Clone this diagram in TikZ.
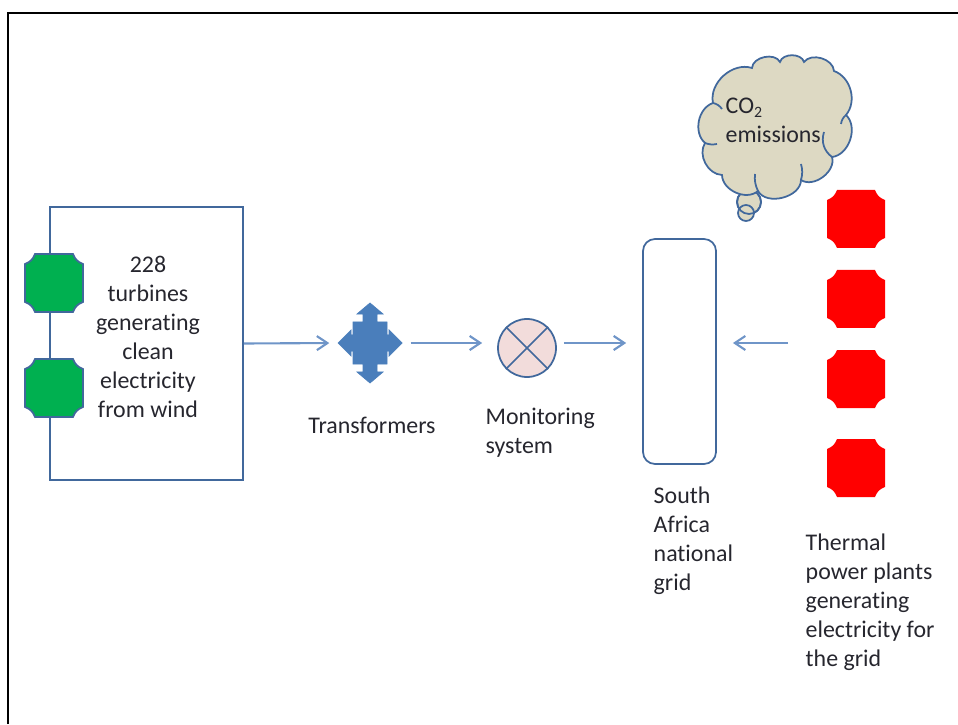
\documentclass[tikz,border=0pt]{standalone}
\usepackage{fontspec}
\setmainfont[Ligatures=NoCommon]{Carlito}
\usetikzlibrary{calc,arrows.meta}
\definecolor{linkblue}{HTML}{6F95C8}
\definecolor{edgeblue}{HTML}{41689C}
\definecolor{cloudtan}{HTML}{DDD9C3}
\definecolor{monpink}{HTML}{F2DCDB}
\definecolor{xfmrblue}{HTML}{4A7EBB}
\definecolor{windgreen}{HTML}{00B050}
\definecolor{inktext}{HTML}{26262E}
\tikzset{
  label/.style={font=\fontsize{6.8pt}{8.25pt}\selectfont, text=inktext, inner sep=0pt, align=left, anchor=west},
  flow/.style={linkblue, line width=0.6pt, -{Straight Barb[length=3pt,width=4pt]}},
  unit/.style={minimum size=0.58cm, inner sep=0pt, outer sep=0pt},
  outline/.style={draw=edgeblue, line width=0.5pt},
}
% plaque outline round a named node
\newcommand{\plaque}[2]{
  \path[#2] ($(#1.north west)+(0.1,0)$) -- ($(#1.north east)+(-0.1,0)$) to[bend right=25] ($(#1.north east)+(0,-0.1)$)
    -- ($(#1.south east)+(0,0.1)$) to[bend right=25] ($(#1.south east)+(-0.1,0)$)
    -- ($(#1.south west)+(0.1,0)$) to[bend right=25] ($(#1.south west)+(0,0.1)$)
    -- ($(#1.north west)+(0,-0.1)$) to[bend right=25] cycle;
}
\begin{document}
\begin{tikzpicture}
  \useasboundingbox (0,0) rectangle (9.58,7.24);
  \draw[black, line width=0.6pt] (0.08,0) -- (0.08,7.11) -- (9.58,7.11);

  % wind farm
  \node[outline, minimum width=1.93cm, minimum height=2.73cm] (windbox) at (1.465,3.805) {};
  \node[label, align=center, anchor=center] (windtext) at (1.48,3.87) {228\\turbines\\generating\\clean\\electricity\\from wind};
  \node[unit] (windA) at (0.54,4.41) {};
  \node[unit] (windB) at (0.54,3.36) {};
  \plaque{windA}{outline, fill=windgreen}
  \plaque{windB}{outline, fill=windgreen}

  % transformers
  \node[minimum width=0.66cm, minimum height=0.82cm, inner sep=0pt] (xfmr) at (3.70,3.81) {};
  \begin{scope}[shift={(xfmr)}]
    \filldraw[xfmrblue, line width=0.2pt] (0,0.40) -- (0.13,0.29) -- (0.07,0.29) -- (0.07,0.21) -- (0.17,0.21) -- (0.17,0.08) -- (0.19,0.08) -- (0.19,0.13)
      -- (0.32,0) -- (0.19,-0.13) -- (0.19,-0.08) -- (0.17,-0.08) -- (0.17,-0.21) -- (0.07,-0.21) -- (0.07,-0.29) -- (0.13,-0.29)
      -- (0,-0.40) -- (-0.13,-0.29) -- (-0.07,-0.29) -- (-0.07,-0.21) -- (-0.17,-0.21) -- (-0.17,-0.08) -- (-0.19,-0.08) -- (-0.19,-0.13)
      -- (-0.32,0) -- (-0.19,0.13) -- (-0.19,0.08) -- (-0.17,0.08) -- (-0.17,0.21) -- (-0.07,0.21) -- (-0.07,0.29) -- (-0.13,0.29) -- cycle;
  \end{scope}
  \node[label, anchor=center] (xfmrtext) at (3.72,2.99) {Transformers};

  % monitoring
  \node[circle, outline, fill=monpink, minimum size=0.58cm, inner sep=0pt] (mon) at (5.27,3.76) {};
  \draw[outline] (mon.45) -- (mon.225);
  \draw[outline] (mon.135) -- (mon.315);
  \node[label] (montext) at (4.85,2.91) {Monitoring\\system};

  % grid
  \node[outline, rounded corners=0.12cm, minimum width=0.73cm, minimum height=2.25cm] (grid) at (6.795,3.725) {};
  \node[label] (gridtext) at (6.53,1.83) {South\\Africa\\national\\grid};

  % thermal plants
  \foreach \name/\y in {coalA/5.05, coalB/4.25, coalC/3.45, coalD/2.56} {
    \node[unit] (\name) at (8.56,\y) {};
    \plaque{\name}{fill=red}
  }
  \node[label] (coaltext) at (8.05,1.22) {Thermal\\power plants\\generating\\electricity for\\the grid};

  % emissions cloud
  \node[circle, outline, fill=cloudtan, minimum size=0.24cm, inner sep=0pt] (puffA) at (7.49,5.22) {};
  \node[circle, outline, fill=cloudtan, minimum size=0.16cm, inner sep=0pt] (puffB) at (7.46,5.11) {};
  \draw[outline] (puffA) circle (0.12);
  \draw[outline, fill=cloudtan] (7.52,6.56) to[bend left=75] (7.80,6.62) to[bend left=75] (8.04,6.62)
    to[bend left=70] (8.34,6.53) to[bend left=55] (8.46,6.09) to[bend left=65] (8.32,5.67) to[bend left=70] (8.01,5.44)
    to[bend left=75] (7.58,5.33) to[bend left=65] (7.22,5.49) to[bend left=60] (7.05,5.81) to[bend left=60] (7.13,6.21)
    to[bend left=60] cycle;
  \draw[outline] (8.46,6.09) to[bend right=20] (8.41,6.00);
  \draw[outline] (8.32,5.67) to[bend left=35] (8.24,5.92);
  \draw[outline] (8.01,5.44) to[bend right=15] (8.01,5.60);
  \draw[outline] (7.58,5.33) to[bend left=15] (7.55,5.50);
  \draw[outline] (7.05,5.81) to[bend right=15] (7.17,5.80);
  \draw[outline] (7.13,6.21) to[bend left=20] (7.22,6.15);
  \node[label] (cloudtext) at (7.25,6.04) {CO\raisebox{-0.4ex}{\fontsize{4.5pt}{5pt}\selectfont 2}\\emissions};

  % connectors
  \coordinate (coalend) at (7.88,3.81);
  \draw[flow, shorten >=0.07cm] (windbox.east) -- (xfmr.west);
  \draw[flow, shorten <=0.07cm, shorten >=0.15cm] (xfmr.east) -- (xfmr.east -| mon.west);
  \draw[flow, shorten <=0.07cm, shorten >=0.16cm] (xfmr.east -| mon.east) -- (xfmr.east -| grid.west);
  \draw[flow, shorten >=0.16cm] (coalend) -- (coalend -| grid.east);
\end{tikzpicture}
\end{document}
